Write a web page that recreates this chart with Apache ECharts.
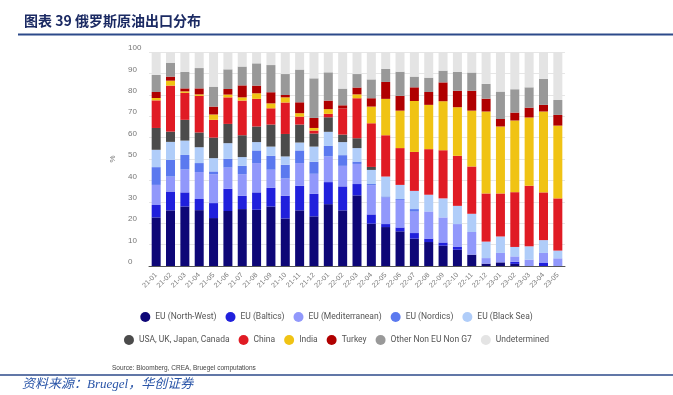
<!DOCTYPE html>
<html>
<head>
<meta charset="utf-8">
<script src="https://cdn.jsdelivr.net/npm/echarts@6/dist/echarts.min.js"></script>
<style>
html,body{margin:0;padding:0;background:#fff;}
#c{width:673px;height:395px;}
</style>
</head>
<body>
<div id="c"></div>
<script>
const categories = ['21-01','21-02','21-03','21-04','21-05','21-06','21-07','21-08','21-09','21-10','21-11','21-12','22-01','22-02','22-03','22-04','22-05','22-06','22-07','22-08','22-09','22-10','22-11','22-12','23-01','23-02','23-03','23-04','23-05'];
const yTicks = [0,10,20,30,40,50,60,70,80,90,100];

const euNorthWest   = [22.7,26.0,27.8,26.1,22.4,25.7,26.6,26.3,27.8,22.2,26.0,23.2,28.9,26.0,33.0,19.8,18.2,16.2,12.8,11.2,9.5,7.6,5.3,1.1,1.7,1.0,0,0,0];
const euBaltics     = [5.8,8.8,6.6,5.2,7.0,10.4,6.2,8.1,8.7,10.6,11.5,10.5,10.3,11.2,5.3,4.3,1.4,1.8,2.6,1.6,1.5,1.3,0,0,0,1.0,0,1.4,0];
const euMed         = [9.4,7.0,10.7,12.6,13.5,9.9,10.1,13.7,8.5,8.1,10.6,9.4,12.0,9.6,9.4,13.7,12.4,12.9,10.0,12.7,11.7,10.7,10.6,2.6,4.4,2.5,3.0,4.7,3.6];
const euNordics     = [8.3,7.8,6.8,4.2,1.3,4.1,3.9,5.9,6.5,6.4,5.9,5.6,4.9,5.0,1.1,0.5,0.5,0.4,1.2,0,0,0,0,0,0,0,0,0,0];
const euBlackSea    = [8.1,8.4,6.7,7.4,6.2,7.3,4.1,3.9,4.3,3.9,3.7,7.1,6.6,6.1,6.3,6.6,9.3,6.6,8.5,7.8,8.9,8.5,8.5,7.7,7.7,4.4,6.2,6.0,3.6];
const g7            = [10.2,4.8,9.7,6.9,9.6,9.0,10.2,7.3,10.3,10.5,8.4,6.1,6.8,3.5,4.6,1.4,0,0,0,0,0,0,0,0,0,0,0,0,0];
const china         = [12.9,21.5,12.6,17.1,8.3,12.4,16.2,12.9,7.6,14.7,3.7,1.4,1.6,12.2,18.7,20.4,19.3,17.2,18.2,21.3,22.5,23.4,22.1,22.5,20.1,25.6,28.3,22.3,24.4];
const india         = [1.1,2.3,0.7,0.7,2.5,1.3,1.5,2.6,2.3,2.4,1.6,1.2,2.2,0,1.8,7.8,17.0,17.5,23.8,20.7,22.9,22.7,26.1,38.3,31.3,33.5,31.9,37.8,34.0];
const turkey        = [2.8,1.9,1.4,2.8,3.7,2.6,5.6,3.6,5.2,1.1,5.1,4.7,4.0,1.5,3.2,3.9,7.9,6.9,6.4,6.0,8.8,7.7,9.3,6.0,3.5,3.7,4.6,3.1,5.0];
const otherNonEU    = [8.0,6.5,7.7,9.5,9.3,9.2,8.8,10.4,12.7,9.8,15.3,18.5,13.2,7.8,6.3,8.8,6.1,11.3,5.0,6.7,5.5,8.8,8.5,6.9,12.8,10.9,9.5,12.1,7.0];
const undetermined  = [10.7,5.0,9.3,7.5,16.2,8.1,6.8,5.3,6.1,10.3,8.2,12.3,9.5,17.1,10.3,12.8,7.9,9.2,11.5,12.0,8.7,9.3,9.6,14.9,18.5,17.4,16.5,12.6,22.4];

const seriesNames = ['EU (North-West)','EU (Baltics)','EU (Mediterranean)','EU (Nordics)','EU (Black Sea)','USA, UK, Japan, Canada','China','India','Turkey','Other Non EU Non G7','Undetermined'];
const seriesData = [euNorthWest, euBaltics, euMed, euNordics, euBlackSea, g7, china, india, turkey, otherNonEU, undetermined];
const colors = ['#0e0777','#2020dc','#9198fb','#5b79ef','#b0cdf9','#4b4b4b','#e01b24','#f0c314','#b00000','#999999','#e4e4e4'];

const chart = echarts.init(document.getElementById('c'));
const legendFont = {fontSize: 8.5, color: '#555', fontFamily: '"Liberation Sans Narrow","Roboto","Liberation Sans",sans-serif'};
chart.setOption({
  animation: false,
  color: colors,
  title: {
    text: '图表 39 俄罗斯原油出口分布',
    left: 19, top: 9,
    textStyle: {fontSize: 14, fontWeight: 'bold', color: '#1b2a63', fontFamily: '"Noto Sans CJK SC", serif'}
  },
  legend: [
    {data: seriesNames.slice(0,5), top: 307, left: 'center', icon: 'circle', itemWidth: 10, itemHeight: 10, itemGap: 9, textStyle: legendFont},
    {data: seriesNames.slice(5), top: 330, left: 'center', icon: 'circle', itemWidth: 10, itemHeight: 10, itemGap: 9, textStyle: legendFont}
  ],
  grid: {left: 149, right: 108, top: 52, bottom: 129},
  xAxis: {
    type: 'category',
    data: categories,
    axisTick: {show: false},
    axisLine: {lineStyle: {color: '#555', width: 1}},
    axisLabel: {rotate: 45, fontSize: 7, color: '#777', margin: 8, interval: 0, fontFamily: '"Liberation Sans Narrow","Liberation Sans",sans-serif'}
  },
  yAxis: {
    type: 'value',
    min: 0, max: 100, interval: 10,
    name: '%', nameLocation: 'middle', nameRotate: 90, nameGap: 26,
    nameTextStyle: {fontSize: 8, color: '#777'},
    axisLine: {show: false},
    axisTick: {show: false},
    axisLabel: {fontSize: 8, color: '#777', align: 'left', margin: 21, verticalAlign: 'bottom'},
    splitLine: {lineStyle: {color: '#e6e6e6', width: 1}}
  },
  graphic: [
    {type: 'line', shape: {x1: 18, y1: 34.5, x2: 673, y2: 34.5}, style: {stroke: '#2c4a8a', lineWidth: 2}},
    {type: 'line', shape: {x1: 0, y1: 375, x2: 673, y2: 375}, style: {stroke: '#2c4a8a', lineWidth: 1.5}},
    {type: 'text', left: 112, top: 365, style: {text: 'Source: Bloomberg, CREA, Bruegel computations', fontSize: 6.5, fill: '#444', fontFamily: '"Liberation Sans Narrow","Liberation Sans",sans-serif'}},
    {type: 'text', left: 22, top: 378, style: {text: '资料来源：Bruegel，华创证券', fontSize: 13, fill: '#2a55a8', fontStyle: 'italic', fontFamily: '"Liberation Serif","Noto Sans CJK SC",serif'}}
  ],
  series: seriesNames.map((n, i) => ({
    name: n,
    type: 'bar',
    stack: 'total',
    barWidth: 9,
    data: seriesData[i]
  }))
});
</script>
</body>
</html>
